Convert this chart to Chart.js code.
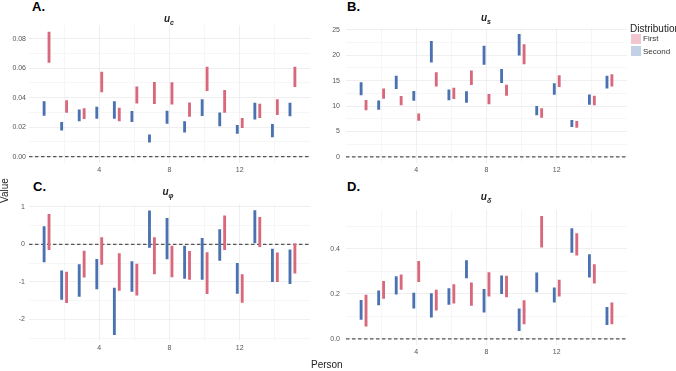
<!DOCTYPE html>
<html>
<head>
<meta charset="utf-8">
<script src="https://cdn.jsdelivr.net/npm/chart.js@4.4.1/dist/chart.umd.min.js"></script>
<style>
  body { margin: 0; background: #fff; font-family: "Liberation Sans", Arial, sans-serif; }
  #wrap { position: relative; width: 676px; height: 371px; overflow: hidden; }
  canvas { position: absolute; }
  .lbl { position: absolute; white-space: nowrap; color: #000; }
  .panel { font-weight: bold; font-size: 13px; }
  .ttl { font-size: 10px; font-weight: bold; font-style: italic; color: #222; transform: translateX(-50%); }
  .ttl sub { font-size: 7px; }
  .axt { font-size: 10px; color: #222; }
  .key { position: absolute; width: 10px; height: 10px; }
</style>
</head>
<body>
<div id="wrap">
  <canvas id="cA" width="316" height="160" style="left:0px;top:18px"></canvas>
  <canvas id="cB" width="316" height="160" style="left:316px;top:18px"></canvas>
  <canvas id="cC" width="316" height="160" style="left:0px;top:196px"></canvas>
  <canvas id="cD" width="316" height="160" style="left:316px;top:200px"></canvas>

  <div class="lbl panel" style="left:32px;top:-1px">A.</div>
  <div class="lbl panel" style="left:347px;top:-1px">B.</div>
  <div class="lbl panel" style="left:33px;top:179px">C.</div>
  <div class="lbl panel" style="left:347px;top:179px">D.</div>

  <div class="lbl ttl" style="left:169px;top:13px">u<sub>c</sub></div>
  <div class="lbl ttl" style="left:486px;top:12px">u<sub>s</sub></div>
  <div class="lbl ttl" style="left:168px;top:186px">u<sub>φ</sub></div>
  <div class="lbl ttl" style="left:486px;top:191px">u<sub>δ</sub></div>

  <div class="lbl axt" style="left:-8px;top:185px;transform:rotate(-90deg)">Value</div>
  <div class="lbl axt" style="left:311px;top:359px">Person</div>

  <div class="lbl" style="left:630px;top:23px;font-size:10px;color:#222">Distribution</div>
  <div class="key" style="left:631px;top:34px;background:#f2c6ce"></div>
  <div class="key" style="left:631px;top:46px;background:#c2d1e6"></div>
  <div class="lbl" style="left:643px;top:34px;font-size:8px;color:#333">First</div>
  <div class="lbl" style="left:643px;top:47px;font-size:8px;color:#333">Second</div>
</div>

<script>
const persons = [1, 2, 3, 4, 5, 6, 7, 8, 9, 10, 11, 12, 13, 14, 15];
const xTicks = [4, 8, 12];

// A. u_c
const ucSecondLow  = [0.028, 0.018, 0.0242, 0.026, 0.026, 0.0238, 0.0099, 0.0226, 0.0166, 0.0278, 0.0208, 0.0157, 0.0255, 0.0134, 0.0276];
const ucSecondHigh = [0.0374, 0.0233, 0.0318, 0.0336, 0.0374, 0.0307, 0.0148, 0.0309, 0.0238, 0.0388, 0.0298, 0.0213, 0.0363, 0.022, 0.0363];
const ucFirstLow   = [0.0639, 0.030, 0.0258, 0.0439, 0.0242, 0.0363, 0.0359, 0.0356, 0.0273, 0.0448, 0.030, 0.0197, 0.0264, 0.0285, 0.0475];
const ucFirstHigh  = [0.0845, 0.0381, 0.0327, 0.0574, 0.0329, 0.0473, 0.0504, 0.0502, 0.0365, 0.0607, 0.045, 0.026, 0.0356, 0.0388, 0.0607];
const ucTicks = [0, 0.02, 0.04, 0.06, 0.08];

// B. u_s
const usSecondLow  = [12.2, 9.35, 13.4, 11.1, 18.6, 11.2, 10.7, 18.2, 14.6, 20.0, 8.27, 12.3, 5.92, 10.3, 13.5];
const usSecondHigh = [14.6, 11.0, 15.9, 12.9, 22.7, 13.2, 12.85, 21.8, 17.2, 24.1, 9.92, 14.4, 7.19, 12.2, 15.9];
const usFirstLow   = [9.22, 11.5, 10.2, 7.19, 13.9, 11.45, 14.2, 10.4, 12.1, 18.3, 7.76, 13.8, 5.79, 10.2, 13.9];
const usFirstHigh  = [11.1, 13.4, 11.9, 8.46, 16.6, 13.55, 16.9, 12.3, 14.1, 22.1, 9.48, 16.0, 7.0, 11.96, 16.2];
const usTicks = [0, 5, 10, 15, 20, 25];

// C. u_phi
const uphiSecondLow  = [-0.47, -1.47, -1.39, -1.19, -2.41, -1.26, -0.08, -0.39, -0.91, -0.94, -0.43, -1.31, 0.04, -1.0, -1.05];
const uphiSecondHigh = [0.47, -0.71, -0.54, -0.40, -1.17, -0.46, 0.89, 0.69, -0.05, 0.16, 0.39, -0.51, 0.90, -0.13, -0.15];
const uphiFirstLow   = [-0.14, -1.56, -0.88, -0.54, -1.23, -1.36, -0.79, -0.87, -0.94, -1.32, -0.14, -1.55, -0.06, -1.0, -0.77];
const uphiFirstHigh  = [0.80, -0.74, -0.18, 0.18, -0.25, -0.53, 0.18, -0.05, -0.19, -0.22, 0.76, -0.81, 0.72, -0.23, 0.01];
const uphiTicks = [-2, -1, 0, 1];

// D. u_delta
const udSecondLow  = [0.087, 0.151, 0.199, 0.136, 0.096, 0.153, 0.271, 0.119, 0.201, 0.037, 0.209, 0.163, 0.384, 0.274, 0.063];
const udSecondHigh = [0.171, 0.213, 0.276, 0.203, 0.201, 0.223, 0.347, 0.220, 0.280, 0.134, 0.293, 0.227, 0.490, 0.374, 0.140];
const udFirstLow   = [0.057, 0.180, 0.220, 0.254, 0.127, 0.159, 0.149, 0.190, 0.186, 0.066, 0.407, 0.190, 0.371, 0.247, 0.067];
const udFirstHigh  = [0.194, 0.256, 0.284, 0.344, 0.217, 0.241, 0.249, 0.294, 0.279, 0.170, 0.544, 0.261, 0.467, 0.330, 0.160];
const udTicks = [0, 0.2, 0.4];

const blue = '#4a72b0';
const red = '#d8687b';
const dodge = 0.14;

function withMinors(major) {
  const step = major[1] - major[0];
  const out = [];
  for (const v of major) { out.push(v - step / 2); out.push(v); }
  out.push(major[major.length - 1] + step / 2);
  return out;
}

function isMajor(v, major) {
  return major.some(m => Math.abs(m - v) < 1e-9);
}

function createPanel(canvasId, low2, high2, low1, high1, yMajor, yMin, yMax, decimals, pad) {
  const second = persons.map((p, i) => ({x: p - dodge, y: [low2[i], high2[i]]}));
  const first = persons.map((p, i) => ({x: p + dodge, y: [low1[i], high1[i]]}));
  const yAll = withMinors(yMajor).filter(v => v >= yMin && v <= yMax);
  const xAll = withMinors(xTicks).filter(v => v > 0 && v < 16);

  new Chart(document.getElementById(canvasId), {
    type: 'bar',
    data: {
      datasets: [
        {data: second, backgroundColor: blue, barThickness: 2.2, grouped: false, order: 1},
        {data: first, backgroundColor: red, barThickness: 2.2, grouped: false, order: 1},
        {type: 'line', data: [{x: 0, y: 0}, {x: 16, y: 0}], borderColor: '#555', borderWidth: 1.2,
         borderDash: [3.5, 2.5], pointRadius: 0, order: 2}
      ]
    },
    options: {
      responsive: false, animation: false,
      layout: {padding: pad},
      scales: {
        x: {
          type: 'linear', min: 0, max: 16, offset: false,
          grid: {offset: false, drawTicks: false, lineWidth: 0.8,
                 color: c => isMajor(c.tick.value, xTicks) ? '#ebebeb' : '#f4f4f4'},
          border: {display: false},
          afterBuildTicks: s => { s.ticks = xAll.map(v => ({value: v})); },
          afterFit: s => { s.height = 15; },
          ticks: {padding: 3, color: '#555', font: {size: 7, family: 'Liberation Sans'},
                  maxRotation: 0, autoSkip: false,
                  callback: v => isMajor(v, xTicks) ? String(v) : ''}
        },
        y: {
          min: yMin, max: yMax,
          grid: {drawTicks: false, lineWidth: 0.8,
                 color: c => isMajor(c.tick.value, yMajor) ? '#ebebeb' : '#f4f4f4'},
          border: {display: false},
          afterBuildTicks: s => { s.ticks = yAll.map(v => ({value: v})); },
          afterFit: s => { s.width = pad.yw; },
          ticks: {padding: pad.tp, color: '#555', font: {size: 7, family: 'Liberation Sans'},
                  autoSkip: false,
                  callback: v => isMajor(v, yMajor) ? v.toFixed(decimals) : ''}
        }
      },
      plugins: {legend: {display: false}, tooltip: {enabled: false}}
    }
  });
}

createPanel('cA', ucSecondLow, ucSecondHigh, ucFirstLow, ucFirstHigh, ucTicks, -0.0043, 0.0892, 2,
  {top: 6, right: 6, left: 0, bottom: 0, yw: 29, tp: 3});
createPanel('cB', usSecondLow, usSecondHigh, usFirstLow, usFirstHigh, usTicks, -1.2, 25.3, 0,
  {top: 7, right: 5, left: 0, bottom: 0, yw: 30, tp: 6});
createPanel('cC', uphiSecondLow, uphiSecondHigh, uphiFirstLow, uphiFirstHigh, uphiTicks, -2.58, 1.07, 0,
  {top: 6, right: 6, left: 0, bottom: 0, yw: 29, tp: 4});
createPanel('cD', udSecondLow, udSecondHigh, udFirstLow, udFirstHigh, udTicks, -0.027, 0.571, 1,
  {top: 6, right: 5, left: 0, bottom: 0, yw: 30, tp: 6});
</script>
</body>
</html>
